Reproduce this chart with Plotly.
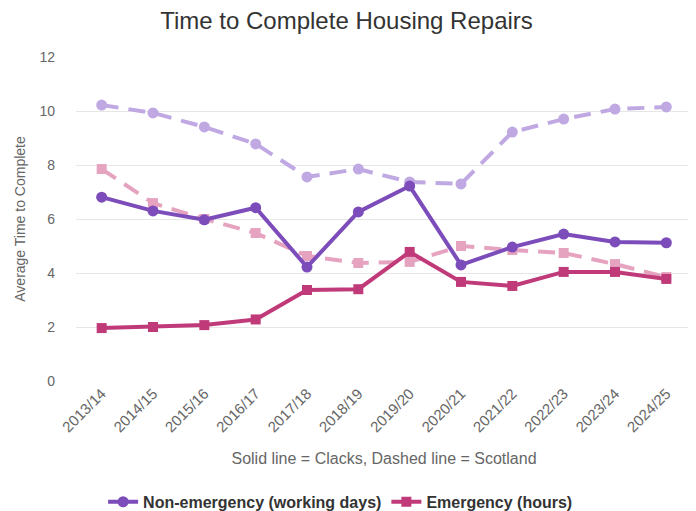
import plotly.graph_objects as go

years = ["2013/14", "2014/15", "2015/16", "2016/17", "2017/18", "2018/19",
         "2019/20", "2020/21", "2021/22", "2022/23", "2023/24", "2024/25"]

clacks_non_emergency = [6.81, 6.30, 5.97, 6.42, 4.22, 6.26, 7.22, 4.30, 4.96, 5.44, 5.15, 5.12]
clacks_emergency = [1.96, 2.00, 2.07, 2.28, 3.37, 3.40, 4.78, 3.67, 3.52, 4.04, 4.04, 3.78]
scotland_non_emergency = [10.22, 9.93, 9.41, 8.78, 7.56, 7.85, 7.37, 7.30, 9.22, 9.70, 10.07, 10.15]
scotland_emergency = [7.85, 6.59, 6.00, 5.48, 4.63, 4.37, 4.41, 5.00, 4.85, 4.74, 4.33, 3.85]

PURPLE = "#7c4dba"
MAGENTA = "#c03a7a"
LIGHT_PURPLE = "#c0a9e3"
LIGHT_PINK = "#e6a3c0"

fig = go.Figure()

fig.add_trace(go.Scatter(
    x=years, y=scotland_non_emergency, mode="lines+markers",
    line=dict(color=LIGHT_PURPLE, width=4, dash="17px,10px"),
    marker=dict(symbol="circle", size=11, color=LIGHT_PURPLE),
    showlegend=False, name="Non-emergency (Scotland)"))
fig.add_trace(go.Scatter(
    x=years, y=scotland_emergency, mode="lines+markers",
    line=dict(color=LIGHT_PINK, width=4, dash="17px,10px"),
    marker=dict(symbol="square", size=10, color=LIGHT_PINK),
    showlegend=False, name="Emergency (Scotland)"))
fig.add_trace(go.Scatter(
    x=years, y=clacks_non_emergency, mode="lines+markers",
    line=dict(color=PURPLE, width=4),
    marker=dict(symbol="circle", size=11, color=PURPLE),
    name="Non-emergency (working days)"))
fig.add_trace(go.Scatter(
    x=years, y=clacks_emergency, mode="lines+markers",
    line=dict(color=MAGENTA, width=4),
    marker=dict(symbol="square", size=10, color=MAGENTA),
    name="Emergency (hours)"))

fig.update_layout(
    width=696, height=511,
    margin=dict(l=68, r=12, t=49, b=138, autoexpand=False),
    paper_bgcolor="white", plot_bgcolor="white",
    font=dict(family="Liberation Sans, Arial, sans-serif", color="#666666"),
    title=dict(text="Time to Complete Housing Repairs", x=0.4864, xanchor="center",
               y=0.975, yanchor="middle",
               font=dict(size=24, color="#333333")),
    xaxis=dict(
        type="category", range=[-0.5, 11.5], tickangle=-45, automargin=False,
        tickfont=dict(size=15, color="#666666"),
        showgrid=False, showline=False, ticks="",
        title=dict(text="Solid line = Clacks, Dashed line = Scotland",
                   font=dict(size=16, color="#666666"), standoff=18)),
    yaxis=dict(
        range=[0, 12], tickvals=[0, 2, 4, 6, 8, 10, 12], automargin=False,
        tickfont=dict(size=14, color="#666666"),
        gridcolor="#e6e6e6", gridwidth=1, zeroline=False, showline=False,
        ticklabelstandoff=20,
        title=dict(text="Average Time to Complete",
                   font=dict(size=14, color="#666666"), standoff=10)),
    legend=dict(orientation="h", x=0.044, xanchor="left", y=-0.373, yanchor="middle",
                font=dict(size=16, color="#333333", weight="bold")),
)

fig.write_html("out.html")
